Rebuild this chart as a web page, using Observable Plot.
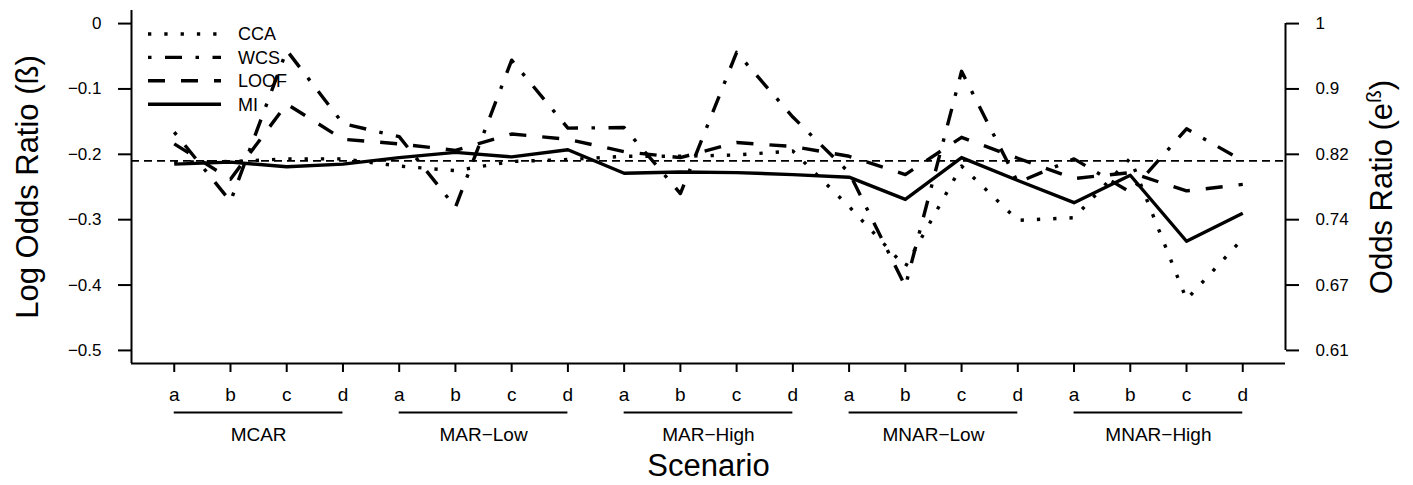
<!DOCTYPE html>
<html>
<head>
<meta charset="utf-8">
<script src="https://cdn.jsdelivr.net/npm/d3@7"></script>
<script src="https://cdn.jsdelivr.net/npm/@observablehq/plot@0.6"></script>
<style>
  html, body { margin: 0; padding: 0; background: #fff; }
</style>
</head>
<body>
<div id="chart"></div>
<script>
// ---------------- data ----------------
const seriesNames = ["CCA", "WCS", "LOOF", "MI"];
const scenarioLetters = ["a", "b", "c", "d"];
const groupNames = ["MCAR", "MAR\u2212Low", "MAR\u2212High", "MNAR\u2212Low", "MNAR\u2212High"];

const ccaValues  = [-0.212, -0.211, -0.207, -0.207, -0.218, -0.225, -0.211, -0.208, -0.203, -0.203,
                    -0.201, -0.195, -0.280, -0.372, -0.218, -0.301, -0.297, -0.206, -0.422, -0.329];
const wcsValues  = [-0.166, -0.272, -0.041, -0.153, -0.173, -0.281, -0.056, -0.160, -0.159, -0.260,
                    -0.044, -0.143, -0.228, -0.402, -0.073, -0.243, -0.207, -0.258, -0.161, -0.210];
const loofValues = [-0.184, -0.238, -0.123, -0.177, -0.184, -0.194, -0.169, -0.177, -0.196, -0.205,
                    -0.182, -0.188, -0.203, -0.231, -0.174, -0.206, -0.237, -0.228, -0.256, -0.246];
const miValues   = [-0.215, -0.212, -0.219, -0.215, -0.205, -0.197, -0.204, -0.193, -0.229, -0.227,
                    -0.228, -0.231, -0.235, -0.269, -0.205, -0.240, -0.274, -0.232, -0.333, -0.290];

const referenceValue = -0.21;

const yTicks = [0, -0.1, -0.2, -0.3, -0.4, -0.5];
const yTickLabels = ["0", "\u22120.1", "\u22120.2", "\u22120.3", "\u22120.4", "\u22120.5"];
const oddsTickLabels = ["1", "0.9", "0.82", "0.74", "0.67", "0.61"];

// ---------------- styles ----------------
const FONT = "'Liberation Sans', Arial, Helvetica, sans-serif";
const dashBySeries = {
  CCA: "3.3,13",
  WCS: "3.5,13.5,17,13.5",
  LOOF: "17,16",
  MI: null
};

// ---------------- derived tables ----------------
const valueLists = [ccaValues, wcsValues, loofValues, miValues];
const rows = [];
seriesNames.forEach((s, k) => valueLists[k].forEach((v, i) => rows.push({series: s, index: i + 1, value: v})));

const nPoints = groupNames.length * scenarioLetters.length;
const xTicks = d3.range(1, nPoints + 1);
const xTickLabels = groupNames.flatMap(() => scenarioLetters);
const groupRows = groupNames.map((name, g) => ({
  name,
  start: g * scenarioLetters.length + 1,
  end: g * scenarioLetters.length + scenarioLetters.length,
  mid: g * scenarioLetters.length + (scenarioLetters.length + 1) / 2
}));

// R-style 4% padding of the axis ranges
const xPad = 0.04 * (nPoints - 1);
const xDomain = [1 - xPad, nPoints + xPad];
const yPad = 0.04 * (yTicks[0] - yTicks[yTicks.length - 1]);
const yDomain = [yTicks[yTicks.length - 1] - yPad, yTicks[0] + yPad];

const marginLeft = 131, marginRight = 128, marginTop = 10, marginBottom = 122;

const chart = Plot.plot({
  width: 1413,
  height: 485,
  marginLeft, marginRight, marginTop, marginBottom,
  style: {fontFamily: FONT, fontSize: "17px", color: "#000", background: "#fff"},
  x: {domain: xDomain},
  y: {domain: yDomain},
  marks: [
    Plot.ruleY([referenceValue], {stroke: "#000", strokeWidth: 1.6, strokeDasharray: "8,5"}),
    ...seriesNames.map(s => Plot.line(rows.filter(r => r.series === s), {
      x: "index", y: "value", stroke: "#000", strokeWidth: 3.4,
      strokeDasharray: dashBySeries[s] || undefined,
      strokeLinecap: "butt", strokeLinejoin: "round"
    })),
    // L-shaped box (left + bottom)
    Plot.ruleX([xDomain[0]], {stroke: "#000", strokeWidth: 2}),
    Plot.ruleY([yDomain[0]], {stroke: "#000", strokeWidth: 2}),
    // right axis line (first to last tick)
    Plot.ruleX([xDomain[1]], {y1: yTicks[0], y2: yTicks[yTicks.length - 1], stroke: "#000", strokeWidth: 2}),
    Plot.axisY(yTicks, {anchor: "left", tickSize: 13, tickPadding: 17, strokeWidth: 2, label: null, fontSize: 17,
      tickFormat: d => yTickLabels[yTicks.indexOf(d)]}),
    Plot.axisY(yTicks, {anchor: "right", tickSize: 13, tickPadding: 17, strokeWidth: 2, label: null, fontSize: 17,
      tickFormat: d => oddsTickLabels[yTicks.indexOf(d)]}),
    Plot.axisX(xTicks, {anchor: "bottom", tickSize: 9, tickPadding: 15, strokeWidth: 2, label: null, fontSize: 19,
      tickFormat: d => xTickLabels[d - 1]}),
    Plot.ruleY(groupRows, {y: () => yDomain[0], x1: "start", x2: "end", dy: 49, stroke: "#000", strokeWidth: 2}),
    Plot.text(groupRows, {x: "mid", y: () => yDomain[0], text: "name", dy: 71, fontSize: 19, lineAnchor: "middle"}),
    Plot.text(["Scenario"], {frameAnchor: "bottom", dy: 103, fontSize: 31, lineAnchor: "middle", textAnchor: "middle"}),
    Plot.text(["Log Odds Ratio (\u00df)"], {frameAnchor: "left", dx: -103, rotate: -90, fontSize: 31,
      textAnchor: "middle", lineAnchor: "middle"}),
    Plot.text(["Odds Ratio (e\u00df)"], {frameAnchor: "right", dx: 97, rotate: -90, fontSize: 31,
      textAnchor: "middle", lineAnchor: "middle", className: "or-title"})
  ]
});

document.getElementById("chart").appendChild(chart);

// superscript for e^ß
const orText = d3.select(chart).select(".or-title text");
if (!orText.empty()) {
  orText.text(null);
  orText.append("tspan").text("Odds Ratio (e");
  orText.append("tspan").attr("dy", -11).attr("font-size", 21).text("\u00df");
  orText.append("tspan").attr("dy", 11).text(")");
}

// legend (top-left inside the plot, no box)
const legend = d3.select(chart).append("g")
  .attr("transform", `translate(${marginLeft + 17},${marginTop + 24})`)
  .attr("font-family", FONT).attr("font-size", 18).attr("text-anchor", "start");
seriesNames.forEach((s, k) => {
  const row = legend.append("g").attr("transform", `translate(0,${k * 23.4})`);
  row.append("line").attr("x1", 0).attr("x2", 73).attr("y1", 0).attr("y2", 0)
    .attr("stroke", "#000").attr("stroke-width", 3.4)
    .attr("stroke-dasharray", dashBySeries[s] || null).attr("stroke-linecap", "butt");
  row.append("text").attr("x", 90).attr("y", 0).attr("dy", "0.35em").attr("fill", "#000")
    .attr("text-anchor", "start").text(s);
});
</script>
</body>
</html>
